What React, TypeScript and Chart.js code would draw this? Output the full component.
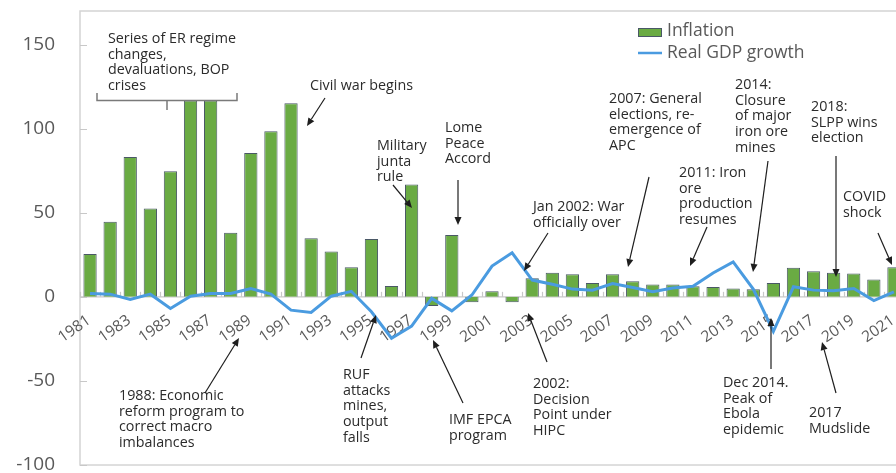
import React, { useEffect, useRef } from "react";
import { Chart, registerables } from "chart.js";

Chart.register(...registerables);

const years = [
  "1981", "1982", "1983", "1984", "1985", "1986", "1987", "1988", "1989", "1990",
  "1991", "1992", "1993", "1994", "1995", "1996", "1997", "1998", "1999", "2000",
  "2001", "2002", "2003", "2004", "2005", "2006", "2007", "2008", "2009", "2010",
  "2011", "2012", "2013", "2014", "2015", "2016", "2017", "2018", "2019", "2020",
  "2021",
];

const inflation = [
  25.5, 44.7, 83.2, 52.6, 74.7, 116.8, 116.8, 38.1, 85.6, 98.5,
  115.2, 34.8, 26.9, 17.6, 34.4, 6.5, 66.8, -5.5, 36.8, -3.2,
  3.4, -3.2, 11.0, 14.4, 13.4, 8.3, 13.5, 9.3, 7.3, 7.3,
  6.3, 5.9, 5.0, 4.5, 8.3, 17.3, 15.3, 14.4, 13.9, 10.3,
  17.6,
];

const gdpGrowth = [
  2.0, 1.6, -1.5, 1.6, -6.9, 0.4, 2.0, 2.0, 5.0, 1.6,
  -7.9, -9.3, 0.4, 3.3, -8.9, -24.6, -17.4, -0.9, -8.3, 1.1,
  18.3, 26.2, 10.0, 7.5, 4.6, 4.0, 7.9, 5.6, 3.0, 5.3,
  6.3, 14.2, 20.8, 4.6, -20.6, 6.0, 4.0, 3.6, 5.0, -2.2,
  3.0,
];

const yTickValues = [-100, -50, 0, 50, 100, 150];

const seriesNames = ["Inflation", "Real GDP growth"];

const noteTexts = [
  ["Series of ER regime", "changes,", "devaluations, BOP", "crises"],
  ["Civil war begins"],
  ["Military", "junta", "rule"],
  ["Lome", "Peace", "Accord"],
  ["Jan 2002: War", "officially over"],
  ["2007: General", "elections, re-", "emergence of", "APC"],
  ["2011: Iron", "ore", "production", "resumes"],
  ["2014:", "Closure", "of major", "iron ore", "mines"],
  ["2018:", "SLPP wins", "election"],
  ["COVID", "shock"],
  ["1988: Economic", "reform program to", "correct macro", "imbalances"],
  ["RUF", "attacks", "mines,", "output", "falls"],
  ["IMF EPCA", "program"],
  ["2002:", "Decision", "Point under", "HIPC"],
  ["Dec 2014.", "Peak of", "Ebola", "epidemic"],
  ["2017", "Mudslide"],
];

// layout of the annotation overlay (pixels): [left, centre of first line]
const notePos = [
  [108, 39], [310, 86], [377, 146], [445, 128], [533, 207], [609, 99],
  [679, 173], [735, 85], [811, 107], [843, 197], [119, 396], [343, 375],
  [449, 420], [533, 384], [723, 383], [809, 413],
];

// arrows: from (x1,y1) to head at (x2,y2)
const arrowPos = [
  [325, 98, 307, 126],
  [393, 185, 412, 208],
  [458, 180, 458, 225],
  [548, 233, 524, 271],
  [649, 177, 628, 267],
  [707, 227, 690, 266],
  [768, 161, 753, 272],
  [836, 156, 836, 277],
  [878, 233, 892, 265],
  [205, 393, 239, 338],
  [361, 358, 376, 315],
  [463, 403, 433, 340],
  [547, 362, 528, 313],
  [771, 369, 771, 318],
  [836, 393, 822, 342],
];

const FONT = "'Open Sans', 'Noto Sans', sans-serif";
const GREEN = "#6aab43";
const BAR_EDGE = "#4a5866";
const BLUE = "#4a9be0";
const AXIS_TEXT = "#595959";
const FRAME = "#d4d4d4";
const LABEL_ROT = (-35 * Math.PI) / 180;

const decorPlugin = {
  id: "decor",
  beforeDatasetsDraw(chart: any) {
    const ctx = chart.ctx;
    const area = chart.chartArea;
    const x = chart.scales.x;
    const y = chart.scales.y;
    const y0 = y.getPixelForValue(0);
    ctx.save();
    // frame
    ctx.strokeStyle = FRAME;
    ctx.lineWidth = 1.5;
    ctx.strokeRect(area.left, area.top, area.right - area.left, area.bottom - area.top);
    // y ticks (inward)
    ctx.strokeStyle = "#c8c8c8";
    ctx.lineWidth = 1;
    yTickValues.forEach((v) => {
      const py = Math.round(y.getPixelForValue(v)) + 0.5;
      ctx.beginPath();
      ctx.moveTo(area.left, py);
      ctx.lineTo(area.left + 7, py);
      ctx.stroke();
    });
    // zero line
    ctx.lineWidth = 1.2;
    ctx.beginPath();
    ctx.moveTo(area.left, y0);
    ctx.lineTo(area.right, y0);
    ctx.stroke();
    // category boundary ticks
    const n = years.length;
    for (let i = 0; i <= n; i++) {
      const px = i === 0 ? area.left : (x.getPixelForValue(i - 1) + x.getPixelForValue(i)) / 2;
      const bx = i === n ? area.right : Math.round(px) + 0.5;
      ctx.beginPath();
      ctx.moveTo(bx, y0 - 5);
      ctx.lineTo(bx, y0);
      ctx.stroke();
    }
    // category labels, hanging below the zero line
    ctx.fillStyle = AXIS_TEXT;
    ctx.font = `15.5px ${FONT}`;
    ctx.textAlign = "right";
    ctx.textBaseline = "middle";
    years.forEach((lab, i) => {
      if (i % 2 !== 0) return;
      ctx.save();
      ctx.translate(x.getPixelForValue(i) - 1, y0 + 22);
      ctx.rotate(LABEL_ROT);
      ctx.fillText(lab, 0, 0);
      ctx.restore();
    });
    ctx.restore();
  },
  afterDraw(chart: any) {
    const ctx = chart.ctx;
    ctx.save();
    // legend
    ctx.fillStyle = GREEN;
    ctx.fillRect(638, 28, 23, 8);
    ctx.strokeStyle = BAR_EDGE;
    ctx.lineWidth = 1;
    ctx.strokeRect(638.5, 28.5, 23, 8);
    ctx.strokeStyle = BLUE;
    ctx.lineWidth = 2.5;
    ctx.beginPath();
    ctx.moveTo(638, 53);
    ctx.lineTo(662, 53);
    ctx.stroke();
    ctx.fillStyle = AXIS_TEXT;
    ctx.font = `17.5px ${FONT}`;
    ctx.textBaseline = "middle";
    ctx.textAlign = "left";
    ctx.fillText(seriesNames[0], 667, 31.5);
    ctx.fillText(seriesNames[1], 667, 53);

    // bracket
    ctx.strokeStyle = "#7a7a7a";
    ctx.lineWidth = 1.5;
    ctx.beginPath();
    ctx.moveTo(97, 93);
    ctx.lineTo(97, 100.5);
    ctx.lineTo(237, 100.5);
    ctx.lineTo(237, 93);
    ctx.moveTo(167, 100.5);
    ctx.lineTo(167, 110);
    ctx.stroke();

    // notes
    ctx.fillStyle = "#2b2b2b";
    ctx.font = `14.3px ${FONT}`;
    noteTexts.forEach((lines, i) => {
      const [lx, ly] = notePos[i];
      lines.forEach((t, j) => ctx.fillText(t, lx, ly + j * 15.7));
    });

    // arrows
    ctx.strokeStyle = "#1e1e1e";
    ctx.fillStyle = "#1e1e1e";
    ctx.lineWidth = 1.2;
    arrowPos.forEach(([x1, y1, x2, y2]) => {
      const ang = Math.atan2(y2 - y1, x2 - x1);
      const hl = 8;
      const hw = 3.5;
      const bx = x2 - hl * Math.cos(ang);
      const by = y2 - hl * Math.sin(ang);
      ctx.beginPath();
      ctx.moveTo(x1, y1);
      ctx.lineTo(bx, by);
      ctx.stroke();
      ctx.beginPath();
      ctx.moveTo(x2, y2);
      ctx.lineTo(bx + hw * Math.sin(ang), by - hw * Math.cos(ang));
      ctx.lineTo(bx - hw * Math.sin(ang), by + hw * Math.cos(ang));
      ctx.closePath();
      ctx.fill();
    });
    ctx.restore();
  },
};

export default function App() {
  const ref = useRef<HTMLCanvasElement>(null);

  useEffect(() => {
    if (!ref.current) return;
    const chart = new Chart(ref.current, {
      type: "bar",
      data: {
        labels: years,
        datasets: [
          {
            type: "line",
            label: seriesNames[1],
            data: gdpGrowth,
            borderColor: BLUE,
            backgroundColor: BLUE,
            borderWidth: 3,
            pointRadius: 0,
            tension: 0,
            order: 0,
          } as any,
          {
            type: "bar",
            label: seriesNames[0],
            data: inflation,
            backgroundColor: GREEN,
            borderColor: BAR_EDGE,
            borderWidth: 1,
            barPercentage: 0.66,
            categoryPercentage: 1,
            order: 1,
          } as any,
        ],
      },
      options: {
        responsive: false,
        animation: false,
        devicePixelRatio: 1,
        layout: { padding: { top: 11, bottom: 8, left: 0, right: 0 } },
        plugins: { legend: { display: false }, tooltip: { enabled: false } },
        scales: {
          x: {
            position: { y: 0 } as any,
            offset: true,
            grid: { display: false, drawTicks: false },
            border: { display: false },
            afterFit: (s: any) => {
              s.height = 0;
              s.paddingTop = 0;
              s.paddingBottom = 0;
              s.paddingLeft = 0;
              s.paddingRight = 0;
            },
            ticks: { display: false, autoSkip: false },
          },
          y: {
            min: -100,
            max: 170,
            grid: { display: false, drawTicks: false },
            border: { display: false },
            afterBuildTicks: (s: any) => {
              s.ticks = yTickValues.map((v) => ({ value: v }));
            },
            afterFit: (s: any) => {
              s.width = 80;
              s.paddingTop = 0;
              s.paddingBottom = 0;
            },
            ticks: {
              padding: 25,
              color: AXIS_TEXT,
              font: { family: FONT, size: 19 },
            },
          },
        },
      },
      plugins: [decorPlugin],
    });
    return () => chart.destroy();
  }, []);

  return (
    <div
      style={{
        position: "fixed",
        left: 0,
        top: 0,
        width: 896,
        height: 473,
        overflow: "hidden",
        background: "#fff",
      }}
    >
      <canvas ref={ref} width={904} height={473} style={{ width: 904, height: 473, display: "block" }} />
    </div>
  );
}
